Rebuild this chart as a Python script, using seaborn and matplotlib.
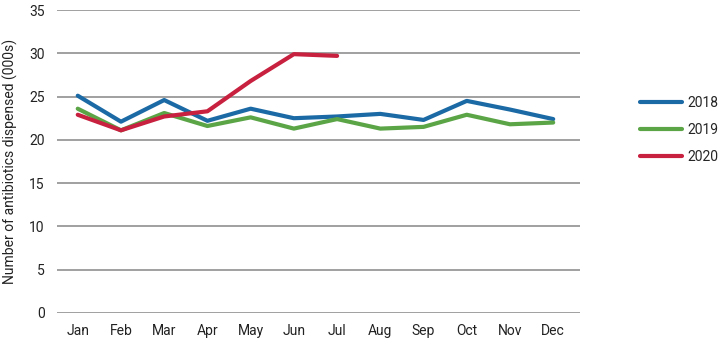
import matplotlib
matplotlib.use("Agg")
import matplotlib.pyplot as plt
import seaborn as sns
import pandas as pd
import numpy as np
from matplotlib.lines import Line2D

months = ["Jan", "Feb", "Mar", "Apr", "May", "Jun", "Jul", "Aug", "Sep", "Oct", "Nov", "Dec"]
y2018 = [25.1, 22.1, 24.6, 22.2, 23.6, 22.5, 22.7, 23.0, 22.3, 24.5, 23.5, 22.4]
y2019 = [23.6, 21.1, 23.1, 21.6, 22.6, 21.3, 22.4, 21.3, 21.5, 22.9, 21.8, 22.0]
y2020 = [22.9, 21.1, 22.7, 23.3, 26.8, 29.9, 29.7]
years = ["2018", "2019", "2020"]
colors = ["#1b6aa5", "#5ba547", "#c8203f"]

rows = []
for yr, vals in zip(years, [y2018, y2019, y2020]):
    for i, v in enumerate(vals):
        rows.append({"month": i, "value": v, "year": yr})
df = pd.DataFrame(rows)

sns.set_theme(style="white")
plt.rcParams["font.family"] = ["Roboto", "DejaVu Sans"]

fig = plt.figure(figsize=(7.2, 3.46), dpi=100)
ax = fig.add_axes([57 / 720, 1 - 313 / 346, (580 - 57) / 720, (313 - 10) / 346])

sns.lineplot(data=df, x="month", y="value", hue="year", palette=colors,
             hue_order=years, linewidth=3, ax=ax, legend=False, zorder=3)

ax.set_xlim(-0.48, 11.62)
ax.set_ylim(0, 35)
ax.set_yticks(np.arange(0, 36, 5))
ax.set_xticks(range(12))
ax.set_xticklabels(months)
ax.yaxis.grid(True, color="#999999", linewidth=1.3)
ax.xaxis.grid(False)
for s in ax.spines.values():
    s.set_visible(False)
ax.tick_params(axis="both", length=0, labelsize=10, colors="#222222")
ax.tick_params(axis="y", pad=9)
ax.tick_params(axis="x", pad=8)
ax.set_xlabel("")
ax.set_ylabel("Number of antibiotics dispensed (000s)", fontsize=10, color="#222222", labelpad=8)

handles = [Line2D([0], [0], color=c, linewidth=3) for c in colors]
fig.legend(handles, years, loc="center left", bbox_to_anchor=(640 / 720, 1 - 130 / 346),
           frameon=False, fontsize=10, handlelength=3.0, handletextpad=0.4,
           labelspacing=0.95, borderpad=0, borderaxespad=0)

fig.savefig("out.png", dpi=100)
